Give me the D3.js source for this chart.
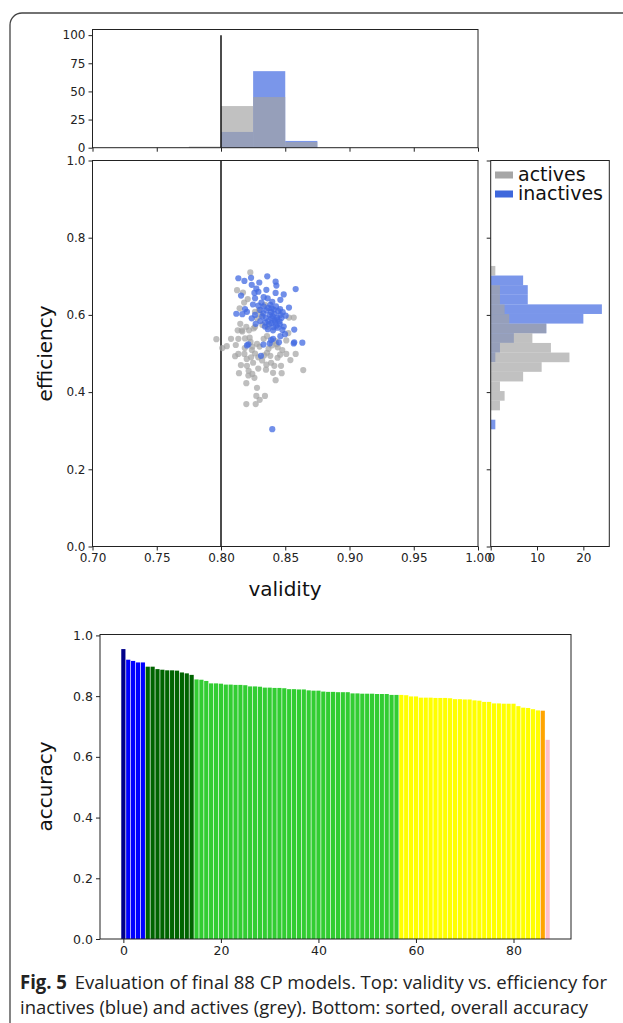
<!DOCTYPE html>
<html>
<head>
<meta charset="utf-8">
<script src="https://cdn.jsdelivr.net/npm/d3@7"></script>
<style>
  body { margin: 0; background: #fff; }
  text { font-family: "DejaVu Sans", sans-serif; }
</style>
</head>
<body>
<div id="graph"></div>
<script>
// points: [validity, efficiency]
const inactivesPoints = [
  [0.8135,0.695],[0.8234,0.696],[0.8298,0.684],[0.8239,0.678],[0.8425,0.686],[0.8431,0.676],
  [0.8353,0.665],[0.8291,0.660],[0.8260,0.657],[0.8156,0.650],[0.8265,0.643],[0.8332,0.646],
  [0.8363,0.643],[0.8425,0.657],[0.8488,0.653],[0.8462,0.639],[0.8581,0.667],[0.8399,0.634],
  [0.8384,0.626],[0.8249,0.627],[0.8291,0.624],[0.8332,0.622],[0.8187,0.615],[0.8119,0.603],
  [0.8166,0.602],[0.8265,0.600],[0.8394,0.617],[0.8415,0.603],[0.8462,0.600],[0.8436,0.593],
  [0.8503,0.598],[0.8529,0.619],[0.8394,0.591],[0.8368,0.584],[0.8420,0.581],[0.8457,0.576],
  [0.8488,0.570],[0.8441,0.567],[0.8405,0.560],[0.8374,0.576],[0.8342,0.570],[0.8306,0.584],
  [0.8270,0.577],[0.8239,0.591],[0.8202,0.608],[0.8570,0.562],[0.8498,0.550],[0.8462,0.545],
  [0.8405,0.538],[0.8451,0.529],[0.8570,0.529],[0.8379,0.526],[0.8213,0.524],[0.8202,0.521],
  [0.8330,0.523],[0.8311,0.494],[0.8566,0.526],[0.8633,0.528],[0.8390,0.535],[0.8399,0.304],
  [0.8352,0.612],[0.8390,0.607],[0.8412,0.614],[0.8445,0.610],[0.8330,0.604],[0.8368,0.618],
  [0.8428,0.622],[0.8460,0.615],[0.8480,0.607],[0.8305,0.613],[0.8378,0.600],[0.8402,0.596],
  [0.8438,0.588],[0.8470,0.592],[0.8350,0.592],[0.8322,0.596],[0.8415,0.586],[0.8455,0.583],
  [0.8392,0.579],[0.8344,0.580],[0.8430,0.572],[0.8364,0.563],[0.8408,0.568],[0.8478,0.561],
  [0.8182,0.688],[0.8360,0.700],[0.8275,0.668],[0.8315,0.632]
];
const activesPoints = [
  [0.8228,0.710],[0.8171,0.658],[0.8208,0.641],[0.8145,0.617],[0.8296,0.612],[0.8342,0.626],
  [0.8265,0.608],[0.8280,0.591],[0.8311,0.600],[0.8322,0.574],[0.8265,0.569],[0.8197,0.569],
  [0.8150,0.577],[0.8161,0.560],[0.8130,0.560],[0.8218,0.560],[0.8254,0.565],[0.8529,0.593],
  [0.8566,0.593],[0.8524,0.553],[0.8363,0.569],[0.7964,0.537],[0.8078,0.538],[0.8135,0.538],
  [0.8187,0.539],[0.8223,0.541],[0.8332,0.538],[0.8358,0.545],[0.8508,0.534],[0.8431,0.524],
  [0.8166,0.557],[0.8010,0.514],[0.8135,0.499],[0.8182,0.499],[0.8244,0.518],[0.8265,0.500],
  [0.8234,0.490],[0.8202,0.468],[0.8244,0.447],[0.8213,0.443],[0.8140,0.449],[0.8358,0.502],
  [0.8384,0.494],[0.8353,0.471],[0.8415,0.468],[0.8467,0.468],[0.8405,0.450],[0.8472,0.449],
  [0.8425,0.431],[0.8197,0.423],[0.8280,0.411],[0.8275,0.390],[0.8342,0.390],[0.8301,0.380],
  [0.8197,0.369],[0.8270,0.369],[0.8540,0.483],[0.8581,0.499],[0.8477,0.509],[0.8441,0.516],
  [0.8640,0.457],[0.8425,0.532],[0.8508,0.499],
  [0.8155,0.470],[0.8250,0.476],[0.8290,0.461],[0.8320,0.482],[0.8390,0.476],[0.8440,0.489],
  [0.8290,0.490],[0.8200,0.486],[0.8110,0.493],[0.8335,0.495],[0.8460,0.497],[0.8240,0.509],
  [0.8185,0.514],[0.8300,0.518],[0.8370,0.512],[0.8115,0.522],[0.8280,0.525],[0.8395,0.521],
  [0.8045,0.519],[0.8215,0.455],[0.8350,0.458],[0.8260,0.437],[0.8180,0.632],[0.8125,0.664],
  [0.8230,0.530]
];

// validity histograms (top)
const validityEdgesActives = [0.775, 0.800, 0.825, 0.850, 0.875];
const validityCountsActives = [1, 37, 45, 5];
const validityEdgesInactives = [0.800, 0.825, 0.850, 0.875];
const validityCountsInactives = [14, 68, 6];

// efficiency histograms (right)
const effEdgesActives = [0.3528,0.3777,0.4027,0.4276,0.4525,0.4775,0.5024,0.5273,0.5523,
  0.5772,0.6021,0.6271,0.6520,0.6769,0.7019,0.7268];
const effCountsActives = [2, 3, 2, 7, 11, 17, 13, 9, 12, 4, 3, 2, 2, 0, 1];
const effEdgesInactives = [0.3036,0.3285,0.3534,0.3783,0.4032,0.4281,0.4530,0.4779,0.5028,
  0.5277,0.5526,0.5775,0.6024,0.6273,0.6522,0.6771,0.7020];
const effCountsInactives = [1, 0, 0, 0, 0, 0, 0, 1, 2, 5, 12, 20, 24, 8, 8, 7];

// sorted overall accuracy of the 88 models
const accuracy = [
  0.955,0.920,0.916,0.911,0.911,0.897,0.897,0.889,0.887,0.885,0.885,0.884,0.878,0.875,0.870,
  0.855,0.854,0.850,0.842,0.842,0.841,0.838,0.838,0.837,0.837,0.836,0.832,0.832,0.831,0.828,
  0.828,0.827,0.827,0.826,0.823,0.823,0.822,0.822,0.819,0.818,0.818,0.815,0.814,0.814,0.813,
  0.813,0.813,0.809,0.809,0.808,0.808,0.808,0.807,0.807,0.807,0.804,0.804,0.804,0.803,0.799,
  0.799,0.795,0.795,0.795,0.794,0.794,0.794,0.793,0.790,0.790,0.789,0.789,0.786,0.785,0.781,
  0.781,0.776,0.776,0.775,0.775,0.775,0.767,0.762,0.761,0.757,0.753,0.752,0.656
];
const scatterXTicks = [0.70, 0.75, 0.80, 0.85, 0.90, 0.95, 1.00];
const scatterYTicks = [0.0, 0.2, 0.4, 0.6, 0.8, 1.0];
const topHistTicks = [0, 25, 50, 75, 100];
const rightHistTicks = [0, 10, 20];
const barXTicks = [0, 20, 40, 60, 80];
const barYTicks = [0.0, 0.2, 0.4, 0.6, 0.8, 1.0];
const threshold = 0.8;

const w = 623, h = 1023;
const blue = '#4169e1', grey = '#a3a3a3';

const svg = d3.select('#graph').append('svg')
  .attr('width', w).attr('height', h);

// frame of the figure panel
svg.append('path')
  .attr('d', 'M623,13 H22 A12,12 0 0 0 10,25 V1023')
  .attr('fill', 'none').attr('stroke', '#444').attr('stroke-width', 1.3);

const xScale = d3.scaleLinear().domain([0.7, 1.0]).range([92.5, 478]);
const yScale = d3.scaleLinear().domain([0, 1]).range([546.5, 160.5]);
const topY = d3.scaleLinear().domain([0, 105]).range([147.7, 29.5]);
const rightX = d3.scaleLinear().domain([0, 25.6]).range([490.7, 609.3]);
const barX = d3.scaleLinear().domain([-4.79, 91.79]).range([100, 571]);
const barY = d3.scaleLinear().domain([0, 1.003]).range([939, 634.5]);

function styleAxis(g, fontSize) {
  g.select('.domain').remove();
  g.selectAll('.tick line').attr('stroke', '#222');
  g.selectAll('.tick text').attr('fill', '#222')
    .style('font-size', fontSize + 'px').style('font-family', '"DejaVu Sans", sans-serif');
}
function frame(x0, x1, y0, y1) {
  svg.append('rect').attr('x', x0).attr('y', y0)
    .attr('width', x1 - x0).attr('height', y1 - y0)
    .attr('fill', 'none').attr('stroke', '#222').attr('stroke-width', 1);
}

// ---- top histogram of validity
function vBars(edges, counts, fill, op) {
  svg.append('g').selectAll('rect').data(counts).enter().append('rect')
    .attr('x', (d, i) => xScale(edges[i]))
    .attr('width', (d, i) => xScale(edges[i + 1]) - xScale(edges[i]))
    .attr('y', (d) => topY(d))
    .attr('height', (d) => topY(0) - topY(d))
    .attr('fill', fill).attr('fill-opacity', op);
}
vBars(validityEdgesInactives, validityCountsInactives, blue, 0.7);
vBars(validityEdgesActives, validityCountsActives, grey, 0.68);
svg.append('line')
  .attr('x1', xScale(threshold)).attr('x2', xScale(threshold))
  .attr('y1', topY(0)).attr('y2', topY(100))
  .attr('stroke', '#111').attr('stroke-width', 1.5);
svg.append('g').attr('transform', 'translate(92.5,0)')
  .call(d3.axisLeft(topY).tickValues(topHistTicks).tickSize(4).tickPadding(3))
  .call((g) => styleAxis(g, 12));
svg.append('g').attr('transform', 'translate(0,147.7)')
  .call(d3.axisBottom(xScale).tickValues(scatterXTicks).tickSize(4).tickFormat(''))
  .call((g) => styleAxis(g, 12));
frame(92.5, 478, 29.5, 147.7);

// ---- scatter
svg.append('line')
  .attr('x1', xScale(threshold)).attr('x2', xScale(threshold))
  .attr('y1', yScale(0)).attr('y2', yScale(1))
  .attr('stroke', '#111').attr('stroke-width', 1.5);
svg.append('g').selectAll('circle').data(activesPoints).enter().append('circle')
  .attr('cx', (d) => xScale(d[0])).attr('cy', (d) => yScale(d[1]))
  .attr('r', 3.1).attr('fill', grey).attr('fill-opacity', 0.7);
svg.append('g').selectAll('circle').data(inactivesPoints).enter().append('circle')
  .attr('cx', (d) => xScale(d[0])).attr('cy', (d) => yScale(d[1]))
  .attr('r', 3.1).attr('fill', blue).attr('fill-opacity', 0.75);
svg.append('g').attr('transform', 'translate(0,546.5)')
  .call(d3.axisBottom(xScale).tickValues(scatterXTicks).tickSize(4).tickPadding(3)
    .tickFormat(d3.format('.2f')))
  .call((g) => styleAxis(g, 12));
svg.append('g').attr('transform', 'translate(92.5,0)')
  .call(d3.axisLeft(yScale).tickValues(scatterYTicks).tickSize(4).tickPadding(3)
    .tickFormat(d3.format('.1f')))
  .call((g) => styleAxis(g, 12));
frame(92.5, 478, 160.5, 546.5);
svg.append('text').attr('x', 285).attr('y', 596).attr('text-anchor', 'middle')
  .style('font-size', '20px').attr('fill', '#111').text('validity');
svg.append('text').attr('transform', 'translate(52,353.5) rotate(-90)')
  .attr('text-anchor', 'middle').style('font-size', '20px').attr('fill', '#111')
  .text('efficiency');

// ---- right histogram of efficiency
function hBars(edges, counts, fill, op) {
  svg.append('g').selectAll('rect').data(counts).enter().append('rect')
    .attr('x', rightX(0))
    .attr('width', (d) => rightX(d) - rightX(0))
    .attr('y', (d, i) => yScale(edges[i + 1]))
    .attr('height', (d, i) => yScale(edges[i]) - yScale(edges[i + 1]))
    .attr('fill', fill).attr('fill-opacity', op);
}
hBars(effEdgesInactives, effCountsInactives, blue, 0.7);
hBars(effEdgesActives, effCountsActives, grey, 0.68);
svg.append('g').attr('transform', 'translate(0,546.5)')
  .call(d3.axisBottom(rightX).tickValues(rightHistTicks).tickSize(4).tickPadding(3))
  .call((g) => styleAxis(g, 12));
svg.append('g').attr('transform', 'translate(490.7,0)')
  .call(d3.axisLeft(yScale).tickValues(scatterYTicks).tickSize(4).tickFormat(''))
  .call((g) => styleAxis(g, 12));
frame(490.7, 609.3, 160.5, 546.5);

const legend = svg.append('g');
[['actives', '#a6a6a6'], ['inactives', '#3f68dc']].forEach((d, i) => {
  legend.append('rect').attr('x', 495).attr('y', 171.5 + i * 19)
    .attr('width', 18).attr('height', 7).attr('fill', d[1]);
  legend.append('text').attr('x', 518).attr('y', 181 + i * 19)
    .style('font-size', '19px').attr('fill', '#111').text(d[0]);
});

// ---- sorted accuracy bars
const barColour = (i) => i === 0 ? '#00008b' : i < 5 ? '#0000ff' : i < 15 ? '#006400'
  : i < 57 ? '#32cd32' : i < 86 ? '#ffff00' : i < 87 ? '#ffa500' : '#ffc0cb';
svg.append('g').selectAll('rect').data(accuracy).enter().append('rect')
  .attr('x', (d, i) => barX(i - 0.43))
  .attr('width', barX(0.86) - barX(0))
  .attr('y', (d) => barY(d))
  .attr('height', (d) => barY(0) - barY(d))
  .attr('fill', (d, i) => barColour(i));
svg.append('g').attr('transform', 'translate(0,939)')
  .call(d3.axisBottom(barX).tickValues(barXTicks).tickSize(4).tickPadding(3))
  .call((g) => styleAxis(g, 12.5));
svg.append('g').attr('transform', 'translate(100,0)')
  .call(d3.axisLeft(barY).tickValues(barYTicks).tickSize(4).tickPadding(3)
    .tickFormat(d3.format('.1f')))
  .call((g) => styleAxis(g, 12.5));
frame(100, 571, 634.5, 939);
svg.append('text').attr('transform', 'translate(52,786.5) rotate(-90)')
  .attr('text-anchor', 'middle').style('font-size', '20px').attr('fill', '#111')
  .text('accuracy');

// ---- caption
const cap1 = svg.append('text').attr('x', 20).attr('y', 989)
  .attr('textLength', 587).attr('lengthAdjust', 'spacingAndGlyphs')
  .style('font-family', '"Open Sans", sans-serif').style('font-size', '19px').attr('fill', '#222');
cap1.append('tspan').style('font-weight', 'bold').text('Fig. 5');
cap1.append('tspan').attr('dx', 8).text('Evaluation of final 88 CP models. Top: validity vs. efficiency for');
svg.append('text').attr('x', 20).attr('y', 1014)
  .attr('textLength', 568).attr('lengthAdjust', 'spacingAndGlyphs')
  .style('font-family', '"Open Sans", sans-serif').style('font-size', '19px').attr('fill', '#222')
  .text('inactives (blue) and actives (grey). Bottom: sorted, overall accuracy');
</script>
</body>
</html>
